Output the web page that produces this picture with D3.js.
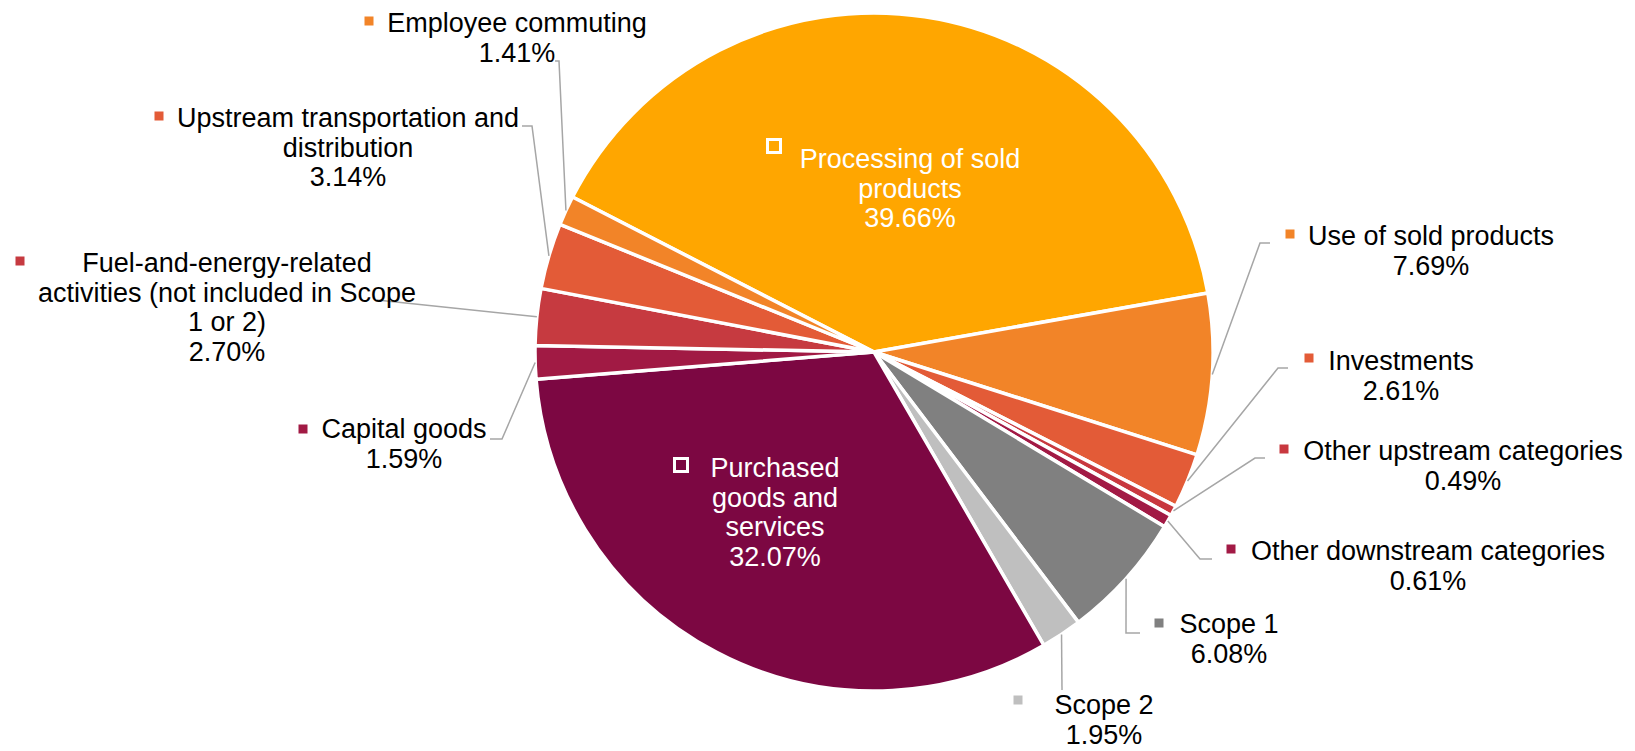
<!DOCTYPE html>
<html>
<head>
<meta charset="utf-8">
<script src="https://cdn.jsdelivr.net/npm/d3@7"></script>
<style>
  body { margin: 0; background: #fff; }
  svg text { font-family: "Liberation Sans", Arial, sans-serif; font-size: 27px; }
</style>
</head>
<body>
<div id="chart"></div>
<script>
const W = 1635;
const H = 751;
const CX = 874;
const CY = 352;
const R = 339;
const LINE_H = 29.6;

// slices, clockwise from the top-left edge of "Processing of sold products"
const categories = [
  'Processing of sold products',
  'Use of sold products',
  'Investments',
  'Other upstream categories',
  'Other downstream categories',
  'Scope 1',
  'Scope 2',
  'Purchased goods and services',
  'Capital goods',
  'Fuel-and-energy-related activities (not included in Scope 1 or 2)',
  'Upstream transportation and distribution',
  'Employee commuting'
];
const shares = [39.66, 7.69, 2.61, 0.49, 0.61, 6.08, 1.95, 32.07, 1.59, 2.70, 3.14, 1.41];
const colors = ['#FFA600', '#F28428', '#E35B37', '#C8383F', '#A21A45', '#808080',
  '#BFBFBF', '#7C0742', '#A11A44', '#C63A40', '#E35B37', '#F28428'];

// how each label wraps
const labelLines = [
  ['Processing of sold', 'products'],
  ['Use of sold products'],
  ['Investments'],
  ['Other upstream categories'],
  ['Other downstream categories'],
  ['Scope 1'],
  ['Scope 2'],
  ['Purchased', 'goods and', 'services'],
  ['Capital goods'],
  ['Fuel-and-energy-related', 'activities (not included in Scope', '1 or 2)'],
  ['Upstream transportation and', 'distribution'],
  ['Employee commuting']
];

// label placement: text centre x, first baseline y, key marker centre, leader start + elbow
const labelLayout = [
  { cx: 910, by: 168, mx: 774, my: 146, inside: true },
  { cx: 1431, by: 245, mx: 1290, my: 234, leader: [[1270, 243], [1260, 243]] },
  { cx: 1401, by: 370, mx: 1309, my: 358, leader: [[1288, 368], [1278, 368]] },
  { cx: 1463, by: 460, mx: 1284, my: 449, leader: [[1265, 458], [1255, 458]] },
  { cx: 1428, by: 560, mx: 1231, my: 549, leader: [[1212, 559], [1200, 559]] },
  { cx: 1229, by: 633, mx: 1159, my: 623, leader: [[1140, 633], [1126, 633]] },
  { cx: 1104, by: 714, mx: 1018, my: 700, leader: [[1062, 690], [1062, 690]] },
  { cx: 775, by: 477, mx: 681, my: 465, inside: true },
  { cx: 404, by: 438, mx: 303, my: 429, leader: [[490, 439], [502, 439]] },
  { cx: 227, by: 272, mx: 20, my: 261, leader: [[377, 300], [377, 300]] },
  { cx: 348, by: 127, mx: 159, my: 116, leader: [[522, 126], [532, 126]] },
  { cx: 517, by: 32, mx: 369, my: 21, leader: [[555, 61], [559, 61]] }
];

const data = categories.map((c, i) => ({ name: c, value: shares[i], color: colors[i], lines: labelLines[i], pos: labelLayout[i] }));

const svg = d3.select('#chart')
  .append('svg')
  .attr('width', W)
  .attr('height', H);

const start = -62.8 * Math.PI / 180;
const pie = d3.pie()
  .sort(null)
  .value(d => d.value)
  .startAngle(start)
  .endAngle(start + 2 * Math.PI);

const arcs = pie(data);
const arc = d3.arc().innerRadius(0).outerRadius(R);
const rim = d3.arc().innerRadius(R).outerRadius(R);

const g = svg.append('g').attr('transform', `translate(${CX},${CY})`);

g.selectAll('path.slice')
  .data(arcs)
  .enter()
  .append('path')
  .attr('class', 'slice')
  .attr('d', arc)
  .attr('fill', d => d.data.color)
  .attr('stroke', '#fff')
  .attr('stroke-width', 3.5)
  .attr('stroke-linejoin', 'round');

// leader lines from the label to the outer edge of the slice
const outside = arcs.filter(d => !d.data.pos.inside);
svg.selectAll('polyline.leader')
  .data(outside)
  .enter()
  .append('polyline')
  .attr('class', 'leader')
  .attr('points', d => {
    const p = rim.centroid(d);
    const pts = d.data.pos.leader.concat([[CX + p[0], CY + p[1]]]);
    return pts.map(q => q.join(',')).join(' ');
  })
  .attr('fill', 'none')
  .attr('stroke', '#A6A6A6')
  .attr('stroke-width', 1.5);

const fmt = d3.format('.2f');

const labels = svg.selectAll('g.label')
  .data(arcs)
  .enter()
  .append('g')
  .attr('class', 'label');

labels.append('text')
  .attr('text-anchor', 'middle')
  .attr('fill', d => d.data.pos.inside ? '#fff' : '#000')
  .each(function (d) {
    const t = d3.select(this);
    const lines = d.data.lines.concat([fmt(d.data.value) + '%']);
    lines.forEach((s, i) => {
      t.append('tspan')
        .attr('x', d.data.pos.cx)
        .attr('y', d.data.pos.by + i * LINE_H)
        .text(s);
    });
  });

// legend key squares
labels.append('rect')
  .attr('x', d => d.data.pos.mx - (d.data.pos.inside ? 6.5 : 4.5))
  .attr('y', d => d.data.pos.my - (d.data.pos.inside ? 6.5 : 4.5))
  .attr('width', d => d.data.pos.inside ? 13 : 9)
  .attr('height', d => d.data.pos.inside ? 13 : 9)
  .attr('fill', d => d.data.color)
  .attr('stroke', d => d.data.pos.inside ? '#fff' : 'none')
  .attr('stroke-width', 3);
</script>
</body>
</html>
